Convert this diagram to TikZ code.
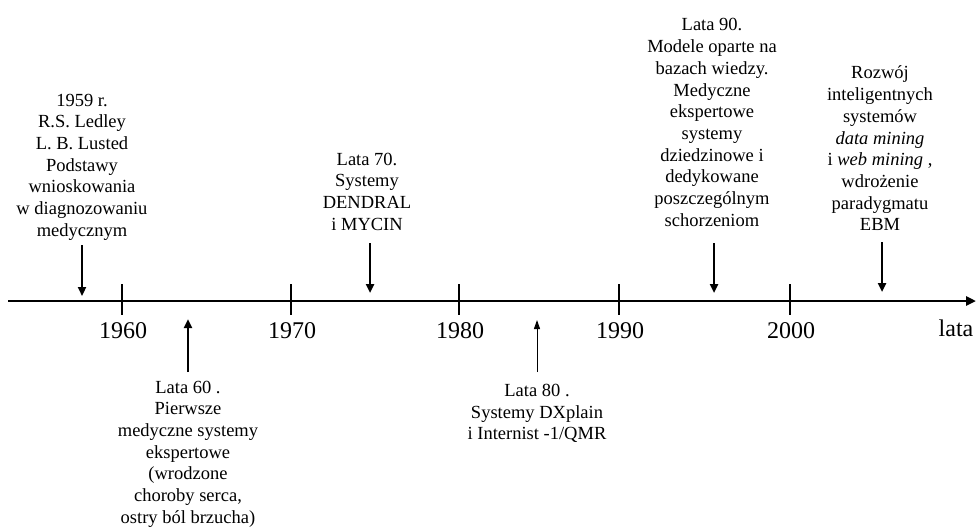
\documentclass[tikz,border=0pt]{standalone}
\usepackage{fontspec}
\setmainfont{Liberation Serif}
\usetikzlibrary{arrows.meta}

\begin{document}
\begin{tikzpicture}[x=1pt,y=-1pt,
    evtext/.style={font=\fontsize{18.5}{21.7}\selectfont,align=center,inner sep=0pt},
    yeartext/.style={font=\fontsize{24}{28}\selectfont,inner sep=0pt},
    thickarr/.style={line width=2.6pt,-{Triangle[length=9pt,width=8pt]}},
    thinarr/.style={line width=1pt,-{Triangle[length=9pt,width=6pt]}}]
    \useasboundingbox (0,0) rectangle (976,528);

    \coordinate (axl) at (8,301);
    \coordinate (axr) at (976,301);
    \draw[line width=2.6pt,-{Triangle[length=10pt,width=9pt]}] (axl) -- (axr);

    \foreach \yr/\xx in {1960/122,1970/291,1980/459,1990/619,2000/790}{
        \draw[line width=2.4pt] (\xx,284) -- (\xx,315);
        \node[yeartext] (y\yr) at (\xx+1,331) {\yr};
    }
    \node[yeartext] (lata) at (956,328) {lata};

    \node[evtext] (n59) at (82,167) {1959 r.\\R.S. Ledley\\L. B. Lusted\\Podstawy\\wnioskowania\\w diagnozowaniu\\medycznym};
    \node[evtext] (n60) at (188,454) {Lata 60 .\\Pierwsze\\medyczne systemy\\ekspertowe\\(wrodzone\\choroby serca,\\ostry ból brzucha)};
    \node[evtext] (n70) at (367,191.5) {Lata 70.\\Systemy\\DENDRAL\\i MYCIN};
    \node[evtext] (n80) at (537,413.5) {Lata 80 .\\Systemy DXplain\\i Internist -1/QMR};
    \node[evtext] (n90) at (712,122.5) {Lata 90.\\Modele oparte na\\bazach wiedzy.\\Medyczne\\ekspertowe\\systemy\\dziedzinowe i\\dedykowane\\poszczególnym\\schorzeniom};
    \node[evtext] (n00) at (880,148.5) {Rozwój\\inteligentnych\\systemów\\\textit{data mining}\\i \textit{web mining} ,\\wdrożenie\\paradygmatu\\EBM};

    \coordinate (a59) at (82,245);
    \coordinate (b59) at (82,296);
    \coordinate (a60) at (188,372);
    \coordinate (b60) at (188,319);
    \coordinate (a70) at (370,243);
    \coordinate (b70) at (370,293);
    \coordinate (a80) at (537,372);
    \coordinate (b80) at (537,320);
    \coordinate (a90) at (714,243);
    \coordinate (b90) at (714,293);
    \coordinate (a00) at (882,242);
    \coordinate (b00) at (882,292);

    \draw[thickarr] (a59) -- (b59);
    \draw[thickarr] (a60) -- (b60);
    \draw[thickarr] (a70) -- (b70);
    \draw[thinarr] (a80) -- (b80);
    \draw[thickarr] (a90) -- (b90);
    \draw[thickarr] (a00) -- (b00);
\end{tikzpicture}
\end{document}
